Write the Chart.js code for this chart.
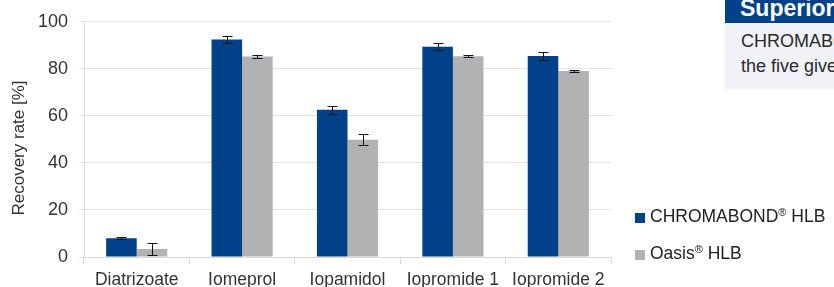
<!DOCTYPE html>
<html>
<head>
<meta charset="utf-8">
<script src="https://cdn.jsdelivr.net/npm/chart.js@4/dist/chart.umd.min.js"></script>
<style>
  html, body { margin: 0; padding: 0; background: #fff; overflow: hidden; }
  body { width: 834px; height: 287px; position: relative; font-family: "Liberation Sans", Arial, sans-serif; color: #222; }
  #wrap { position: absolute; left: 0; top: 0; width: 834px; height: 287px; }
  .legend { position: absolute; left: 635px; font-size: 17.5px; line-height: 20px; white-space: nowrap; }
  .legend .box { display: inline-block; width: 10px; height: 10px; margin-right: 5px; vertical-align: -1px; }
  sup { font-size: 11px; vertical-align: 6px; line-height: 0; }
  #head { position: absolute; left: 725px; top: 0; width: 109px; height: 23px; background: #00418a; color: #fff;
          font-weight: bold; font-size: 23px; line-height: 23px; overflow: hidden; white-space: nowrap; }
  #head span { position: absolute; left: 15px; top: -3px; }
  #note { position: absolute; left: 725px; top: 23px; width: 109px; height: 66px; background: #f0f2f7;
          font-size: 18px; line-height: 25px; overflow: hidden; white-space: nowrap; color: #2a2a2a; }
  #note div { position: absolute; left: 16px; top: 6px; }
</style>
</head>
<body>
<div id="wrap"><canvas id="chart"></canvas></div>
<div id="head"><span>Superior</span></div>
<div id="note"><div>CHROMABOND<br>the five given</div></div>
<div id="legend"></div>
<script>
// values
var categories = ["Diatrizoate", "Iomeprol", "Iopamidol", "Iopromide 1", "Iopromide 2"];
var chromabond = [8.0, 92.5, 62.6, 89.4, 85.5];
var chromabondErr = [0.4, 1.5, 1.6, 1.6, 1.6];
var oasis = [3.4, 85.2, 49.9, 85.4, 79.1];
var oasisErr = [2.7, 0.6, 2.4, 0.3, 0.3];
var seriesNames = ["CHROMABOND® HLB", "Oasis® HLB"];
var yTicks = [0, 20, 40, 60, 80, 100];

var blue = "#00418a";
var grey = "#b1b2b4";
var textCol = "#333333";

// error bars drawn on top of each bar
var errorBars = {
    id: "errorBars",
    afterDatasetsDraw: function(chart) {
        var ctx = chart.ctx;
        var y = chart.scales.y;
        ctx.save();
        ctx.strokeStyle = "#111";
        ctx.lineWidth = 1;
        chart.data.datasets.forEach(function(ds, i) {
            var meta = chart.getDatasetMeta(i);
            meta.data.forEach(function(bar, j) {
                var v = ds.data[j], e = ds.errors[j];
                var x = Math.round(bar.x) + 0.5;
                var top = Math.round(y.getPixelForValue(v + e)) + 0.5;
                var bot = Math.round(y.getPixelForValue(v - e)) + 0.5;
                ctx.beginPath();
                ctx.moveTo(x, top); ctx.lineTo(x, bot);
                ctx.moveTo(x - 5, top); ctx.lineTo(x + 5, top);
                ctx.moveTo(x - 5, bot); ctx.lineTo(x + 5, bot);
                ctx.stroke();
            });
        });
        ctx.restore();
    }
};

// rotated y axis title
var yTitle = {
    id: "yTitle",
    afterDraw: function(chart) {
        var ctx = chart.ctx;
        ctx.save();
        ctx.translate(19, 148);
        ctx.rotate(-Math.PI / 2);
        ctx.font = "17px 'Liberation Sans', Arial, sans-serif";
        ctx.fillStyle = textCol;
        ctx.textAlign = "center";
        ctx.textBaseline = "middle";
        ctx.fillText("Recovery rate [%]", 0, 0);
        ctx.restore();
    }
};

new Chart(document.getElementById("chart"), {
    type: "bar",
    data: {
        labels: categories,
        datasets: [{
            label: seriesNames[0],
            data: chromabond,
            errors: chromabondErr,
            backgroundColor: blue,
            categoryPercentage: 0.58,
            barPercentage: 1.0
        }, {
            label: seriesNames[1],
            data: oasis,
            errors: oasisErr,
            backgroundColor: grey,
            categoryPercentage: 0.58,
            barPercentage: 1.0
        }]
    },
    options: {
        responsive: true,
        maintainAspectRatio: false,
        animation: false,
        layout: { padding: { top: 20, right: 223, left: 0, bottom: 0 } },
        plugins: {
            legend: { display: false },
            tooltip: { enabled: false }
        },
        scales: {
            x: {
                afterFit: function(s) { s.height = 30; },
                grid: { display: true, drawOnChartArea: false, offset: true, tickLength: 7, color: "#d9d9d9" },
                border: { color: "#d9d9d9" },
                ticks: { color: textCol, font: { size: 17.5, family: "'Liberation Sans', Arial, sans-serif" }, padding: 6, maxRotation: 0, autoSkip: false }
            },
            y: {
                min: 0,
                max: 100,
                afterFit: function(s) { s.width = 84; },
                afterBuildTicks: function(s) { s.ticks = yTicks.map(function(v) { return { value: v }; }); },
                grid: { color: "#e2e2e2", tickLength: 5 },
                border: { color: "#dcdcdc" },
                ticks: { color: textCol, font: { size: 18, family: "'Liberation Sans', Arial, sans-serif" }, padding: 11 }
            }
        }
    },
    plugins: [errorBars, yTitle]
});

// legend built from series names
var legend = document.getElementById("legend");
var cols = [blue, grey];
var tops = [206, 243];
seriesNames.forEach(function(name, i) {
    var d = document.createElement("div");
    d.className = "legend";
    d.style.top = tops[i] + "px";
    d.innerHTML = '<span class="box" style="background:' + cols[i] + '"></span>' + name.replace("®", "<sup>®</sup>");
    legend.appendChild(d);
});
</script>
</body>
</html>
